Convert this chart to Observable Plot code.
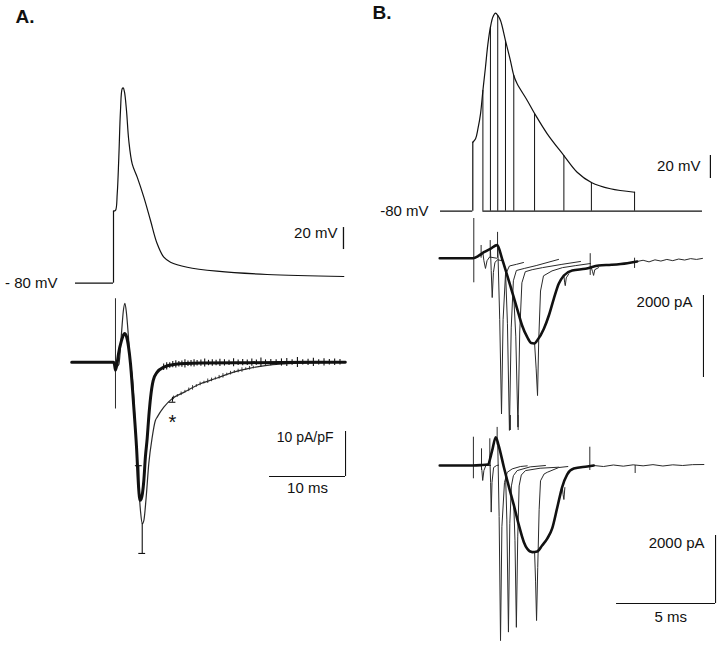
<!DOCTYPE html>
<html><head><meta charset="utf-8">
<script src="https://cdn.jsdelivr.net/npm/d3@7"></script>
<script src="https://cdn.jsdelivr.net/npm/@observablehq/plot@0.6"></script>
<style>
body{margin:0;background:#fff;}
#fig{position:relative;width:720px;height:645px;background:#fff;overflow:hidden;}
#fig svg{position:absolute;left:0;top:0;}
</style></head><body><div id="fig"></div>
<script>
// ---------- Panel A : action-potential command (mV vs ms) ----------
const aVoltTime = [0, 0.26, 0.49, 0.70, 0.92, 1.14, 1.28, 1.45, 1.71, 2.01, 2.46, 3.12, 3.99, 4.87, 5.75, 6.62, 7.5, 9.7, 13.6, 20.2, 30.3];
const aVoltMv   = [-14.5, -13.9, 1.3, 34.5, 77, 96.7, 97.6, 93.6, 77, 49.7, 28.5, 16.4, -1.8, -23, -44.2, -56.4, -60.9, -65.5, -69.1, -72.1, -73.9];
const aRestMv = -80, aStartMs = -5;

// ---------- Panel A : current density (pA/pF) ----------
const aThickTime = [-5.5, 0, 0.13, 0.26, 0.45, 0.66, 1.05, 1.45, 1.71, 1.97, 2.24, 2.5, 2.67, 3.03, 3.33, 3.46, 3.64, 3.99, 4.2, 4.43, 4.65, 4.87, 5.22, 5.75, 6.62, 7.93, 11.4, 18, 30.5];
const aThickCur  = [0, 0, -0.5, -1.8, -0.5, 1.9, 4.8, 6.4, 5.7, 3.5, -0.4, -6, -10, -18.9, -28.5, -30.7, -30.4, -26.3, -21, -17, -12, -8, -4.1, -2.2, -1.1, -0.5, -0.2, -0.1, 0];
const aThinTime = [0.4, 0.7, 1.05, 1.3, 1.5, 1.7, 1.95, 2.2, 2.46, 2.67, 2.89, 3.25, 3.55, 3.78, 3.99, 4.3, 4.64, 5.09, 5.5, 5.75, 6.62, 7.72, 9.25, 11.45, 13.64, 15.8, 18.0, 20.2, 24.6, 30.5];
const aThinCur  = [-1, -0.5, 6.4, 11.5, 13.1, 11, 6, 0, -3, -8, -15, -25.6, -33, -35.9, -35.2, -30, -22.6, -16.7, -13, -12.2, -10, -8.1, -6.7, -4.8, -3.5, -2.2, -1.3, -0.7, -0.2, 0];
const aThickSemTime = [6.6, 7.0, 7.4, 7.8, 8.2, 8.6, 9.0, 9.4, 9.8, 10.2, 10.6, 11.0, 11.5, 12.0, 12.5, 13.0, 13.5, 14.0, 14.6, 15.2, 15.8, 16.4, 17.0, 17.6, 18.2, 18.8, 19.4, 20.0, 20.7, 21.4, 22.1, 22.8, 23.5, 24.2, 24.9, 25.6, 26.3, 27.0, 27.7, 28.4, 29.1, 29.8];
const aThickSem     = [0.7, 0.8, 0.6, 0.7, 0.8, 0.6, 0.7, 0.9, 0.6, 0.7, 0.8, 0.6, 0.7, 0.9, 0.6, 0.7, 0.6, 0.8, 0.7, 0.6, 0.9, 0.6, 0.7, 0.6, 0.8, 0.6, 1.0, 0.6, 0.7, 0.6, 0.8, 0.9, 0.6, 1.1, 0.6, 0.7, 0.9, 0.6, 0.8, 0.6, 0.7, 0.6];
const aThinSemTime = [7.9, 8.4, 8.9, 9.4, 9.9, 10.4, 10.9, 11.4, 11.9, 12.4, 12.9, 13.4, 13.9, 14.4, 14.9, 15.4, 15.9, 16.4, 16.9, 17.4, 17.9, 18.4];
const aThinSem     = [0.4, 0.3, 0.4, 0.3, 0.4, 0.5, 0.3, 0.4, 0.3, 0.5, 0.4, 0.3, 0.4, 0.5, 0.3, 0.4, 0.3, 0.4, 0.5, 0.3, 0.4, 0.3];
const aPeakBarTime = [3.33, 3.78, 7.76];       // error bars drawn with caps
const aPeakBarFrom = [-28.5, -35.9, -7.8];
const aPeakBarTo   = [-23.0, -42.5, -8.9];
const aArtifact = {t: 0.26, hi: 14.1, lo: -10.4};
const aStar = {t: 7.76, v: -12.3};

// ---------- Panel B : truncated AP commands (mV vs ms) ----------
const bApTime = [0, 0.14, 0.26, 0.39, 0.51, 0.64, 0.76, 0.89, 1.02, 1.15, 1.27, 1.4, 1.65, 1.9, 2.07, 2.24, 2.75, 3.12, 3.76, 4.6, 5.27, 5.99, 6.95, 8.17];
const bApMv   = [-20, -17, -8.3, 4.7, 25, 45.2, 65, 80, 89, 92.2, 90, 85.8, 68.4, 51, 38, 30.8, 16.3, 5, -12.7, -31.6, -46.1, -55, -60.5, -63.5];
const bTruncTime = [0.51, 0.89, 1.26, 1.65, 2.07, 3.12, 4.6, 5.99, 8.17];
const bTruncMv   = [25, 80, 90, 68.4, 38, 5, -31.6, -55, -63.5];
const bRestMv = -80, bStartMs = -1.63, bEndMs = 11.6;

// ---------- Panel B : currents, upper set (pA) ----------
const bThick1Time = [-1.67, 0, 0.3, 0.56, 0.89, 1.23, 1.48, 1.74, 1.99, 2.24, 2.49, 2.75, 2.95, 3.1, 3.25, 3.59, 3.84, 4.09, 4.34, 4.6, 5.02, 5.69, 6.36, 7.0, 7.8, 8.3];
const bThick1Pa   = [0, 0, 60, 146, 229, 320, -15, -422, -829, -1234, -1641, -1927, -2070, -2080, -2007, -1722, -1398, -990, -624, -422, -300, -259, -178, -160, -122, -80];
const bThin1Time = [8.3, 8.6, 8.9, 9.2, 9.5, 9.8, 10.1, 10.4, 10.7, 11.0, 11.3, 11.6];
const bThin1Pa   = [-80, -50, -90, -40, -70, -30, -60, -20, -45, -10, -30, -5];
const bTail1Sweep = [1,1,1,1,1,1, 2,2,2,2,2,2,2, 3,3,3,3,3,3,3,3, 4,4,4,4,4,4,4,4,4, 5,5,5,5,5,5,5,5,5,5, 6,6,6,6,6,6,6,6,6,6, 7,7,7,7,7, 8,8,8,8,8];
const bTail1Time  = [0.51,0.56,0.64,0.72,0.85,1.2, 0.89,0.93,0.98,1.04,1.12,1.25,1.5, 1.26,1.36,1.45,1.53,1.65,1.85,2.2,2.56, 1.65,1.75,1.85,1.94,2.05,2.2,2.6,3.2,4.33, 2.07,2.17,2.28,2.37,2.48,2.65,3.0,3.52,4.5,5.44, 3.12,3.2,3.27,3.33,3.42,3.57,4.0,4.53,5.2,5.94, 4.6,4.64,4.67,4.72,4.85, 5.99,6.05,6.1,6.16,6.35];
const bTail1Pa    = [130,-60,-250,-60,30,0, 229,-300,-960,-350,-100,-40,-60, 300,-1500,-3800,-1500,-400,-190,-150,-105, -280,-1600,-4200,-1700,-550,-300,-250,-180,-30, -950,-1900,-4120,-1800,-600,-330,-280,-230,-150,-80, -2075,-2700,-3350,-2000,-800,-430,-310,-230,-180,-130, -422,-600,-670,-480,-380, -240,-330,-420,-280,-230];
const bArt1Time = [0.05, 0.42, 0.88, 1.25, 5.93, 8.17];
const bArt1Hi   = [968, 310, 430, 630, 110, 0];
const bArt1Lo   = [-600, 0, 0, 0, -420, -250];

// ---------- Panel B : currents, lower set (pA) ----------
const bThick2Time = [-1.67, 0, 0.4, 0.76, 0.97, 1.16, 1.3, 1.57, 1.82, 2.07, 2.32, 2.58, 2.75, 3.0, 3.25, 3.5, 3.76, 4.01, 4.26, 4.51, 4.77, 5.1, 5.78, 6.11];
const bThick2Pa   = [0, 0, 10, 30, 420, 833, 600, -50, -620, -1160, -1740, -2255, -2451, -2549, -2529, -2353, -2150, -1850, -1250, -640, -260, -90, -29, 0];
const bThin2Time = [6.11, 6.6, 7.1, 7.6, 8.1, 8.6, 9.1, 9.6, 10.1, 10.6, 11.1, 11.67];
const bThin2Pa   = [0, -30, 15, -20, 20, -10, 25, -15, 20, 0, 25, 29];
const bTail2Sweep = [1,1,1,1,1,1, 2,2,2,2,2,2,2, 3,3,3,3,3,3,3,3,3, 4,4,4,4,4,4,4,4,4, 5,5,5,5,5,5,5,5,5, 6,6,6,6,6,6,6,6,6,6, 7,7,7,7];
const bTail2Time  = [0.42,0.46,0.5,0.56,0.66,0.9, 0.86,0.9,0.93,0.97,1.05,1.2,1.3, 1.26,1.33,1.4,1.47,1.6,1.74,1.99,2.4,2.75, 1.65,1.72,1.8,1.87,1.95,2.05,2.24,2.9,3.67, 2.07,2.13,2.2,2.27,2.34,2.45,2.66,3.4,4.34, 3.12,3.17,3.22,3.28,3.35,3.42,3.6,3.76,4.34,4.8, 4.52,4.56,4.6,4.65];
const bTail2Pa    = [10,-150,-440,-150,0,0, 250,-500,-1370,-500,-60,0,10, 650,-1500,-5150,-1800,-500,-200,-100,-30,-10, -200,-1600,-4900,-1700,-600,-300,-150,-40,0, -1160,-2200,-4760,-2100,-600,-280,-150,-80,-50, -2540,-3400,-4560,-3000,-1300,-450,-250,-200,-60,-30, -630,-850,-1000,-650];
const bArt2Time = [0.03, 0.44, 0.86, 1.23, 1.9, 2.29, 5.91, 8.2];
const bArt2Hi   = [832, 490, 785, 1120, 1470, 1470, 538, 0];
const bArt2Lo   = [-391, -147, 0, 600, 1030, 1030, -147, -235];

// ---------- labels and scale-bar sizes ----------
const panelLabels = ["A.", "B."];
const restLabels = ["- 80 mV", "-80 mV"];
const aVoltBar = 20, aCurBar = 10, aTimeBar = 10;         // mV, pA/pF, ms
const bVoltBar = 20, bCurBar = 2000, bTimeBar = 5;         // mV, pA, ms
const barLabels = ["20 mV", "10 pA/pF", "10 ms", "20 mV", "2000 pA", "2000 pA", "5 ms"];

// ================= drawing =================
const FONT = '"Liberation Sans", Arial, Helvetica, sans-serif';
const rows = (ts, vs) => ts.map((t, i) => ({t, v: vs[i]}));
const interp = (ts, vs, t) => {
  const i = d3.bisectRight(ts, t);
  if (i <= 0) return vs[0];
  if (i >= ts.length) return vs[vs.length - 1];
  const a = (t - ts[i - 1]) / (ts[i] - ts[i - 1]);
  return vs[i - 1] + a * (vs[i] - vs[i - 1]);
};
const fig = document.getElementById("fig");
function layer(x, y, marks) {
  const svg = Plot.plot({
    width: 720, height: 645, margin: 0,
    style: {background: "transparent", fontFamily: FONT, overflow: "visible"},
    x: {...x, axis: null}, y: {...y, axis: null},
    marks
  });
  fig.appendChild(svg);
}
const txt = {fill: "#111", fontFamily: FONT, fontSize: 15, lineAnchor: "middle"};
const INK = "#111", THIN = "#2a2a2a";

// ---- A voltage ----
{
  const bar = {t: 30.26, a: -49.4};
  layer({domain: [0, 10], range: [113, 189]}, {domain: [-80, -60], range: [282.7, 260.7]}, [
    Plot.ruleY([{v: aRestMv}], {y: "v", x1: aStartMs, x2: 0, stroke: INK, strokeWidth: 1.2}),
    Plot.ruleX([{t: 0}], {x: "t", y1: aRestMv, y2: aVoltMv[0], stroke: INK, strokeWidth: 1.2}),
    Plot.line(rows(aVoltTime, aVoltMv), {x: "t", y: "v", curve: "catmull-rom", stroke: INK, strokeWidth: 1.2}),
    Plot.ruleX([bar], {x: "t", y1: "a", y2: d => d.a + aVoltBar, stroke: INK, strokeWidth: 1.3}),
    Plot.text([bar], {x: "t", y: d => d.a + aVoltBar / 2, text: () => barLabels[0], textAnchor: "end", dx: -6, dy: -5, ...txt}),
    Plot.text([{t: aStartMs, v: aRestMv}], {x: "t", y: "v", text: () => restLabels[0], textAnchor: "end", dx: -18, ...txt}),
    Plot.text([panelLabels[0]], {frameAnchor: "top-left", dx: 15, dy: 9, lineAnchor: "top", fontSize: 19, fontWeight: "bold", fill: "#111", fontFamily: FONT})
  ]);
}

// ---- A current density ----
{
  const thick = rows(aThickTime, aThickCur), thin = rows(aThinTime, aThinCur);
  const semThick = aThickSemTime.map((t, i) => ({t, m: interp(aThickTime, aThickCur, t), s: aThickSem[i]}));
  const semThin = aThinSemTime.map((t, i) => ({t, m: interp(aThinTime, aThinCur, t), s: aThinSem[i]}));
  const bars = aPeakBarTime.map((t, i) => ({t, a: aPeakBarFrom[i], b: aPeakBarTo[i]}));
  const sb = {t: 30.53, v: -15.4};
  layer({domain: [0, 10], range: [113, 189]}, {domain: [0, -10], range: [361.7, 406.7]}, [
    Plot.ruleX([aArtifact], {x: "t", y1: "lo", y2: "hi", stroke: THIN, strokeWidth: 1}),
    Plot.line(thin, {x: "t", y: "v", curve: "monotone-x", stroke: THIN, strokeWidth: 1.2}),
    Plot.ruleX(semThin, {x: "t", y1: d => d.m - d.s, y2: d => d.m + d.s, stroke: THIN, strokeWidth: 0.9}),
    Plot.line(thick, {x: "t", y: "v", curve: "monotone-x", stroke: INK, strokeWidth: 3, strokeLinejoin: "round"}),
    Plot.ruleX(semThick, {x: "t", y1: d => d.m - d.s, y2: d => d.m + d.s, stroke: INK, strokeWidth: 1.1}),
    Plot.ruleX(bars, {x: "t", y1: "a", y2: "b", stroke: INK, strokeWidth: 1.1}),
    Plot.ruleY(bars, {y: "b", x1: d => d.t - 0.45, x2: d => d.t + 0.45, stroke: INK, strokeWidth: 1.1}),
    Plot.text([aStar], {x: "t", y: "v", text: () => "*", fontSize: 20, fill: "#111", fontFamily: FONT, lineAnchor: "middle", dy: 5}),
    Plot.ruleX([sb], {x: "t", y1: "v", y2: d => d.v - aCurBar, stroke: INK, strokeWidth: 1.1}),
    Plot.ruleY([sb], {y: d => d.v - aCurBar, x1: d => d.t - aTimeBar, x2: "t", stroke: INK, strokeWidth: 1.1}),
    Plot.text([sb], {x: "t", y: "v", text: () => barLabels[1], textAnchor: "end", dx: -12, dy: 6, ...txt, fontSize: 14}),
    Plot.text([sb], {x: d => d.t - aTimeBar / 2, y: d => d.v - aCurBar, text: () => barLabels[2], dy: 12, ...txt})
  ]);
}

// ---- B voltage ----
{
  const trunc = bTruncTime.map((t, i) => ({t, v: bTruncMv[i]}));
  const bar = {t: 12.0, a: -51.6};
  layer({domain: [0, 5], range: [472.3, 571.3]}, {domain: [-80, -60], range: [210.7, 187.7]}, [
    Plot.ruleY([{v: bRestMv}], {y: "v", x1: bStartMs, x2: 0, stroke: INK, strokeWidth: 1.2}),
    Plot.ruleY([{v: bRestMv}], {y: "v", x1: bTruncTime[0], x2: bEndMs, stroke: INK, strokeWidth: 1.2}),
    Plot.ruleX([{t: 0}], {x: "t", y1: bRestMv, y2: bApMv[0], stroke: INK, strokeWidth: 1.2}),
    Plot.ruleX(trunc, {x: "t", y1: bRestMv, y2: "v", stroke: INK, strokeWidth: 1}),
    Plot.line(rows(bApTime, bApMv), {x: "t", y: "v", curve: "catmull-rom", stroke: INK, strokeWidth: 1.2}),
    Plot.ruleX([bar], {x: "t", y1: "a", y2: d => d.a + bVoltBar, stroke: INK, strokeWidth: 1.2}),
    Plot.text([bar], {x: "t", y: d => d.a + bVoltBar / 2, text: () => barLabels[3], textAnchor: "end", dx: -10, dy: -1, ...txt}),
    Plot.text([{t: bStartMs, v: bRestMv}], {x: "t", y: "v", text: () => restLabels[1], textAnchor: "end", dx: -12, ...txt}),
    Plot.text([panelLabels[1]], {frameAnchor: "top-left", dx: 372, dy: 5, lineAnchor: "top", fontSize: 19, fontWeight: "bold", fill: "#111", fontFamily: FONT})
  ]);
}

// ---- B currents ----
function currentLayer(yMap, thickT, thickV, thinT, thinV, sw, tt, tv, artT, artHi, artLo, bar, labelIdx, labelDy, timeLabelIdx) {
  const tails = tt.map((t, i) => ({s: sw[i], t, v: tv[i]}));
  const art = artT.map((t, i) => ({t, hi: artHi[i], lo: artLo[i]}));
  const marks = [
    Plot.line(rows(thinT, thinV), {x: "t", y: "v", stroke: THIN, strokeWidth: 1}),
    Plot.line(tails, {x: "t", y: "v", z: "s", stroke: THIN, strokeWidth: 1, strokeLinejoin: "round"}),
    Plot.ruleX(art, {x: "t", y1: "lo", y2: "hi", stroke: THIN, strokeWidth: 1}),
    Plot.line(rows(thickT, thickV), {x: "t", y: "v", curve: "monotone-x", stroke: INK, strokeWidth: 2.6, strokeLinejoin: "round"}),
    Plot.ruleX([bar], {x: "t", y1: "v", y2: d => d.v - bCurBar, stroke: INK, strokeWidth: 1.1}),
    Plot.text([bar], {x: "t", y: "v", text: () => barLabels[labelIdx], textAnchor: "end", dx: -11, dy: labelDy, ...txt})
  ];
  if (timeLabelIdx != null) {
    marks.push(Plot.ruleY([bar], {y: d => d.v - bCurBar, x1: d => d.t - bTimeBar, x2: "t", stroke: INK, strokeWidth: 1.1}));
    marks.push(Plot.text([bar], {x: d => d.t - bTimeBar / 2 + 0.24, y: d => d.v - bCurBar, text: () => barLabels[timeLabelIdx], dy: 14, ...txt}));
  }
  layer({domain: [0, 5], range: [472.3, 571.3]}, yMap, marks);
}
currentLayer({domain: [0, -2000], range: [257.7, 339.7]}, bThick1Time, bThick1Pa, bThin1Time, bThin1Pa,
  bTail1Sweep, bTail1Time, bTail1Pa, bArt1Time, bArt1Hi, bArt1Lo, {t: 11.65, v: -910}, 4, 7, null);
currentLayer({domain: [0, -2000], range: [465, 533]}, bThick2Time, bThick2Pa, bThin2Time, bThin2Pa,
  bTail2Sweep, bTail2Time, bTail2Pa, bArt2Time, bArt2Hi, bArt2Lo, {t: 12.26, v: -2059}, 5, 8, 6);
</script></body></html>
